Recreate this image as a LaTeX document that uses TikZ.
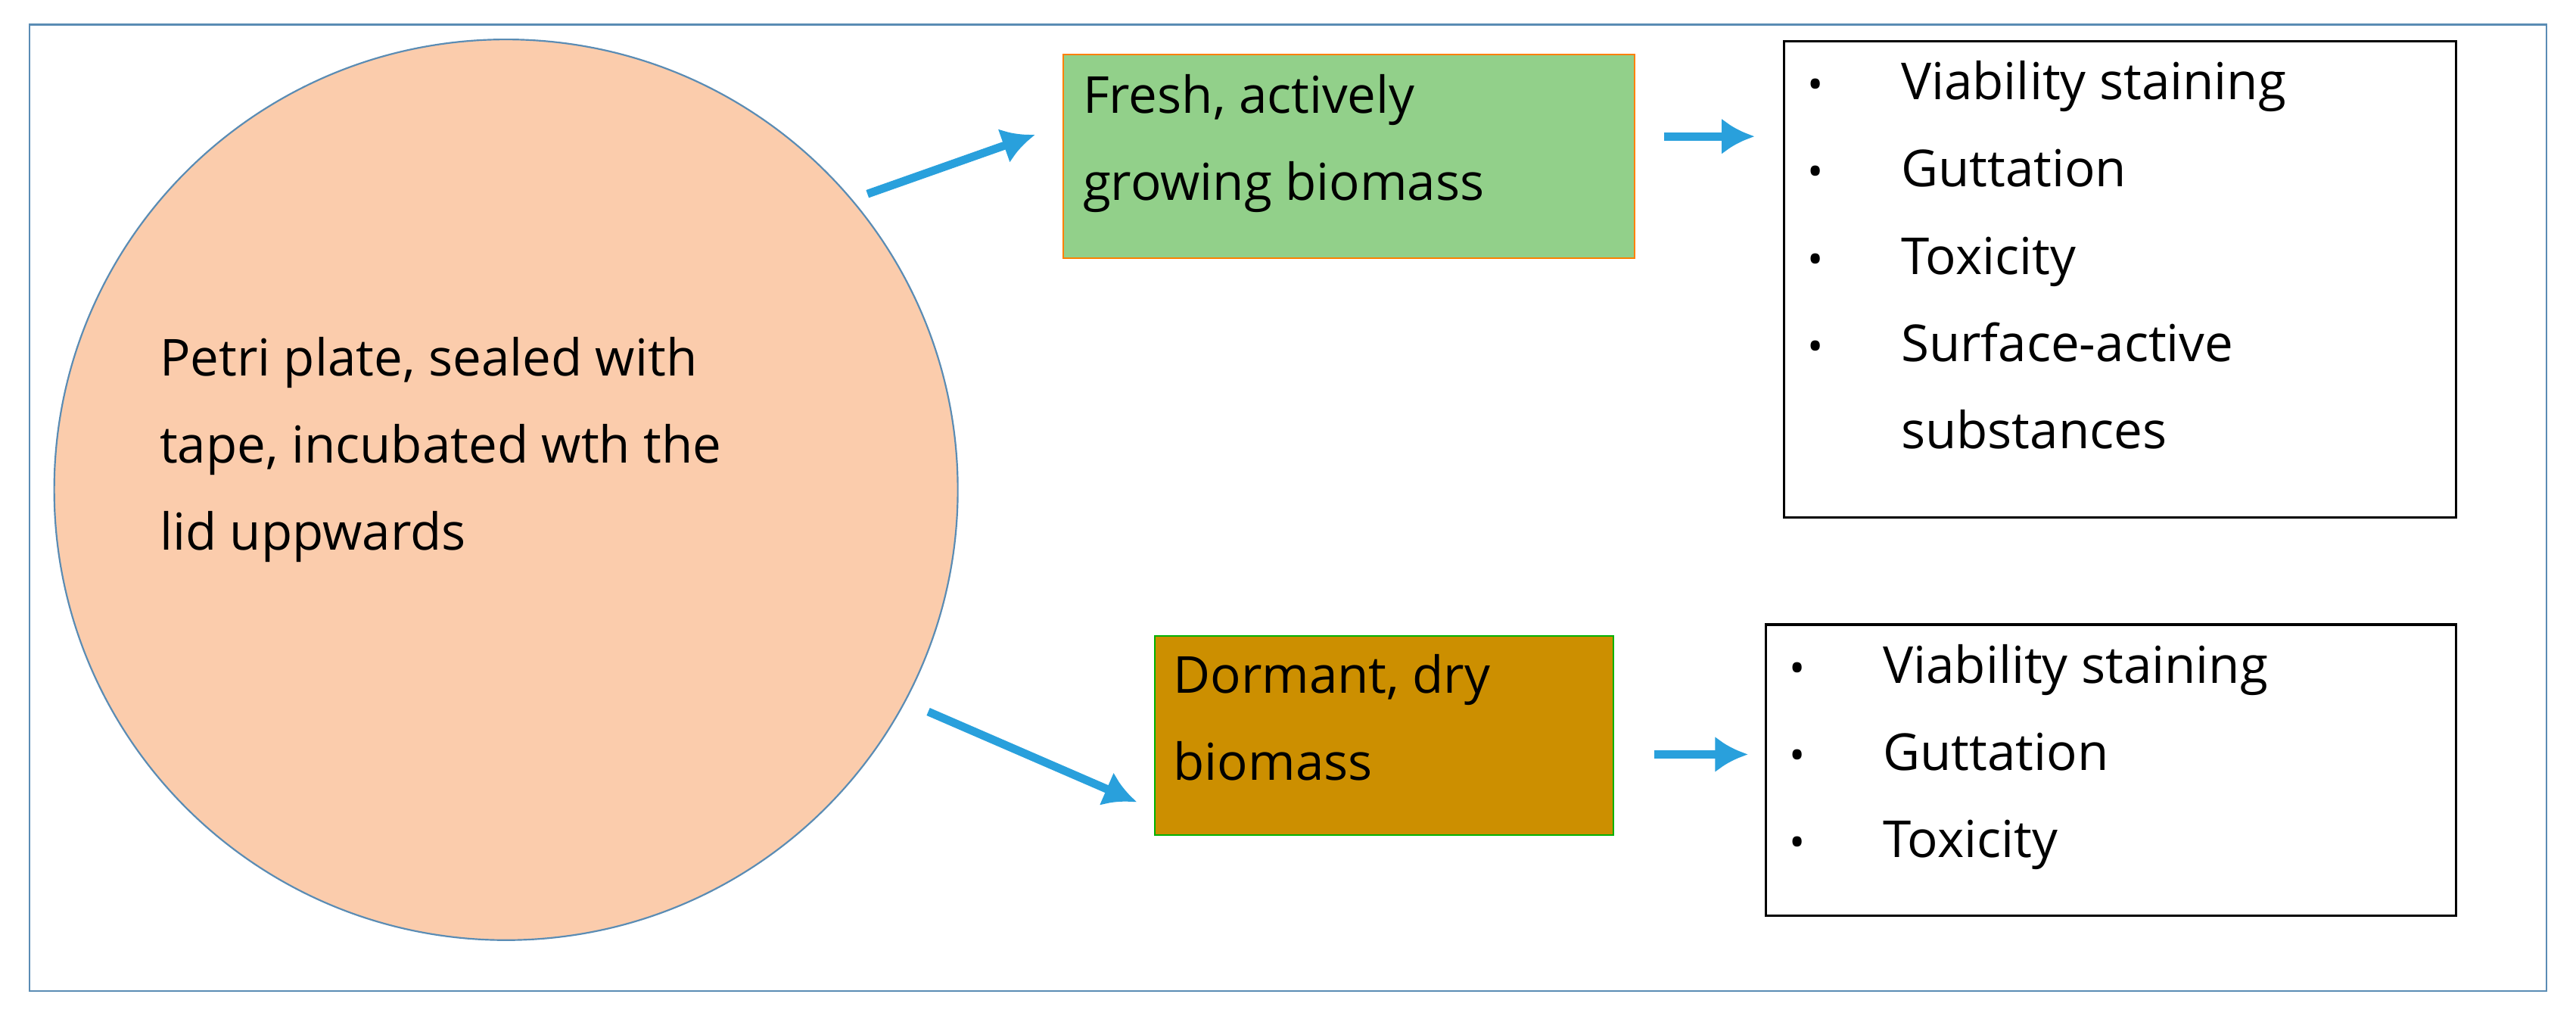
\documentclass[tikz,border=0pt]{standalone}
\usepackage{fontspec}
\setmainfont{Open Sans}
\usetikzlibrary{positioning,arrows.meta}
\definecolor{peach}{RGB}{251,204,172}
\definecolor{freshgreen}{RGB}{146,208,138}
\definecolor{drybrown}{RGB}{204,143,0}
\definecolor{arrowblue}{RGB}{41,160,220}
\definecolor{framegray}{RGB}{90,140,180}
\newcommand{\bul}{\makebox[57pt][l]{\fontsize{26}{26}\selectfont\textbullet}}
\begin{document}
\begin{tikzpicture}[x=1pt,y=-1pt,
  txt/.style={font=\fontsize{31}{53}\selectfont,align=left,inner sep=0pt},
  listbox/.style={draw=black,line width=1.5pt},
  flow/.style={draw=arrowblue,line width=5pt,-{Latex[length=20pt,width=22pt]}}]
\useasboundingbox (0,0) rectangle (1568,618);
% frame
\draw[framegray,line width=1.2pt] (18,15) rectangle (1550,603);
% plate
\draw[framegray,fill=peach,line width=1pt] (308,298) ellipse (275 and 274);
\node[txt,anchor=north west] (plate) at (97,205) {Petri plate, sealed with\\tape, incubated wth the\\lid uppwards};
% biomass boxes
\draw[orange,fill=freshgreen,line width=1pt] (647,33) rectangle (995,157);
\node[txt,anchor=north west] (fresh) at (659,45) {Fresh, actively\\growing biomass};
\draw[green!70!black,fill=drybrown,line width=1pt] (703,387) rectangle (982,508);
\node[txt,anchor=north west] (dry) at (714,398) {Dormant, dry\\biomass};
% lists
\draw[listbox] (1086,25) rectangle (1495,315);
\node[txt,anchor=north west] (freshlist) at (1100,37) {\bul Viability staining\\\bul Guttation\\\bul Toxicity\\\bul Surface-active\\\makebox[57pt]{}substances};
\draw[listbox] (1075,380) rectangle (1495,557);
\node[txt,anchor=north west] (drylist) at (1089,392) {\bul Viability staining\\\bul Guttation\\\bul Toxicity};
% arrows
\coordinate (a1) at (528,118); \coordinate (b1) at (630,82);
\coordinate (a2) at (565,433); \coordinate (b2) at (692,488);
\coordinate (a3) at (1013,83); \coordinate (b3) at (1068,83);
\coordinate (a4) at (1007,459); \coordinate (b4) at (1064,459);
\foreach \s/\e in {a1/b1,a2/b2,a3/b3,a4/b4}
  \draw[flow] (\s) -- (\e);
\end{tikzpicture}
\end{document}
